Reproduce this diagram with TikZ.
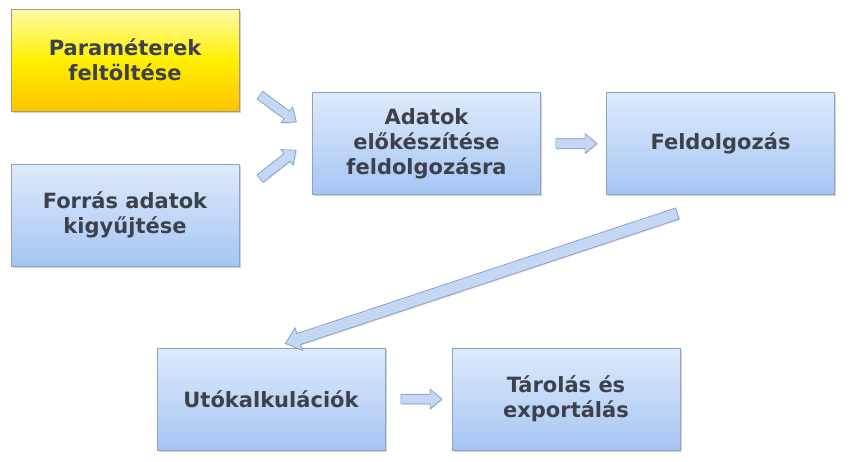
\documentclass[tikz,border=0pt]{standalone}
\usepackage{fontspec}
\setmainfont{DejaVu Sans}
\usetikzlibrary{shapes.arrows,shadows}

\definecolor{szoveg}{RGB}{60,65,76}
\definecolor{keret}{RGB}{140,163,196}
\definecolor{kekfel}{RGB}{222,234,251}
\definecolor{kekle}{RGB}{166,198,243}
\definecolor{sargakeret}{RGB}{160,158,120}
\definecolor{nyilkeret}{RGB}{120,150,190}
\definecolor{nyilszin}{RGB}{196,216,246}

\tikzset{
  doboz/.style={rectangle, draw=keret, line width=0.8pt,
    minimum width=228pt, minimum height=102pt,
    top color=kekfel, bottom color=kekle,
    text=szoveg, align=center,
    font=\fontsize{21}{25}\selectfont\bfseries,
    drop shadow={shadow xshift=1.5pt, shadow yshift=-1.5pt, opacity=0.35}},
  sarga/.style={doboz, draw=sargakeret,
    top color={rgb,255:red,255;green,250;blue,170},
    bottom color={rgb,255:red,255;green,196;blue,0},
    middle color={rgb,255:red,255;green,240;blue,0}},
  nyil/.style={single arrow, draw=nyilkeret, fill=nyilszin, line width=0.6pt,
    inner xsep=0pt, inner ysep=4.5pt, minimum width=0pt,
    single arrow head extend=5pt, single arrow tip angle=80,
    sloped, allow upside down,
    drop shadow={shadow xshift=1pt, shadow yshift=-1pt, opacity=0.25}}
}

\begin{document}
\begin{tikzpicture}[x=1pt, y=-1pt]
  \useasboundingbox (0,0) rectangle (851,461);

  % bal oldali dobozok
  \node[sarga] (param) at (125,60) {Paraméterek\\feltöltése};
  \node[doboz] (forras) at (125,215) {Forrás adatok\\kigyűjtése};

  % felso sor
  \node[doboz] (adatok) at (426.5,143.5) {Adatok\\előkészítése\\feldolgozásra};
  \node[doboz] (feld) at (720.5,143.5) {Feldolgozás};

  % also sor
  \node[doboz] (uto) at (271,399) {Utókalkulációk};
  \node[doboz] (tarolas) at (566,399) {Tárolás és\\exportálás};

  % nyilak
  \path (param.-10.6) -- (adatok.175) node[nyil, midway, minimum height=45pt] (ny1) {};
  \path (forras.10.2) -- (adatok.177.8) node[nyil, midway, minimum height=46pt] (ny2) {};
  \path (adatok.east) -- (feld.west) node[nyil, midway, minimum height=41pt] (ny3) {};
  \path (feld.-76.4) -- (uto.88.4) node[nyil, pos=0.54, minimum height=413pt,
    inner ysep=5.5pt, single arrow head extend=6pt] (ny4) {};
  \path (uto.east) -- (tarolas.west) node[nyil, midway, minimum height=41pt] (ny5) {};
\end{tikzpicture}
\end{document}
